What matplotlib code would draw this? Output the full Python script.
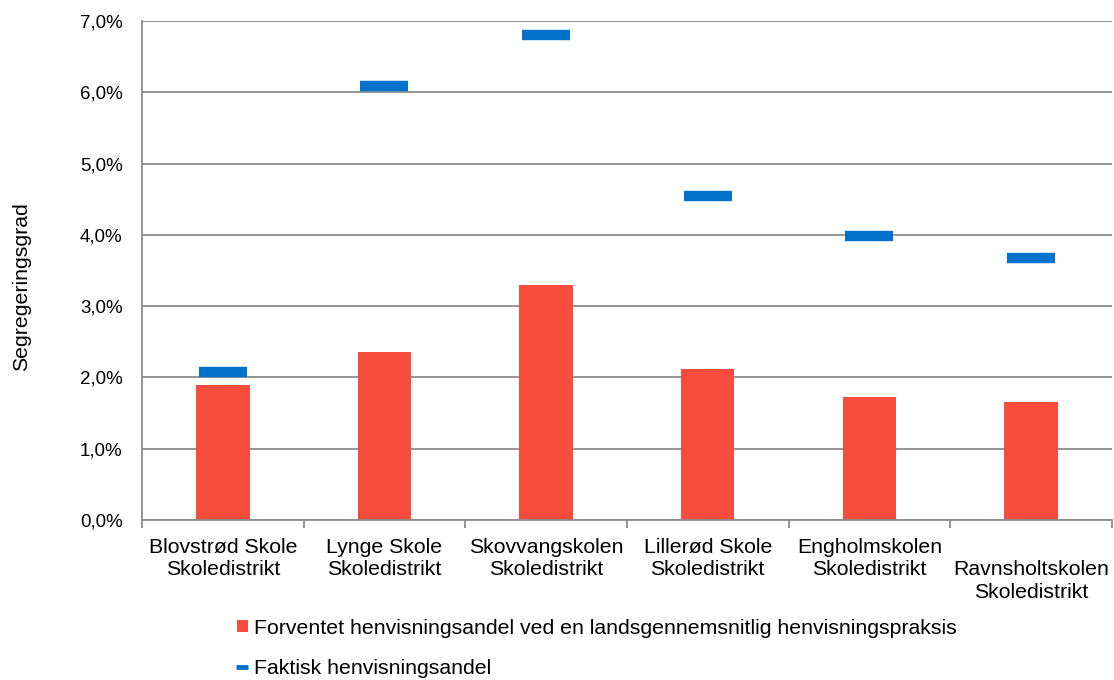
import matplotlib.pyplot as plt
from matplotlib.patches import Patch
from matplotlib.lines import Line2D
from matplotlib.ticker import FuncFormatter, FixedLocator

plt.rcParams['font.family'] = ['Liberation Sans', 'DejaVu Sans']

# Data (percent)
districts = ['Blovstrød Skole\nSkoledistrikt', 'Lynge Skole\nSkoledistrikt',
             'Skovvangskolen\nSkoledistrikt', 'Lillerød Skole\nSkoledistrikt',
             'Engholmskolen\nSkoledistrikt', '\nRavnsholtskolen\nSkoledistrikt']
expected = [1.89, 2.35, 3.29, 2.12, 1.73, 1.65]   # Forventet henvisningsandel
actual = [2.07, 6.09, 6.80, 4.55, 3.99, 3.68]     # Faktisk henvisningsandel

red = '#F84C3C'
blue = '#0072CC'
grey = '#8C8C8C'

fig = plt.figure(figsize=(11.14, 6.8), dpi=100)
ax = fig.add_axes([0.1275, 0.2353, 0.8705, 0.7338])

x = list(range(len(districts)))
ax.bar(x, expected, width=0.33, color=red, zorder=2)
ax.plot(x, actual, ls='none', marker='_', markersize=35, markeredgewidth=7.5,
        color=blue, zorder=3)

ax.set_xlim(-0.5, len(districts) - 0.5)
ax.set_ylim(0, 7)
ax.set_yticks([0, 1, 2, 3, 4, 5, 6, 7])
ax.yaxis.set_major_formatter(FuncFormatter(lambda v, p: f'{v:.1f}%'.replace('.', ',')))
ax.grid(axis='y', color=grey, lw=1.3, zorder=0)
ax.set_axisbelow(True)

ax.set_xticks(x)
ax.set_xticklabels(districts, fontsize=15.3, linespacing=1.22)
ax.xaxis.set_minor_locator(FixedLocator([i - 0.5 for i in range(len(districts) + 1)]))
ax.tick_params(axis='x', which='major', length=0, pad=13)
ax.tick_params(axis='x', which='minor', length=6, width=1.3, color=grey)
ax.tick_params(axis='y', length=0, pad=14, labelsize=13.5)

for s in ['top', 'right']:
    ax.spines[s].set_visible(False)
for s in ['left', 'bottom']:
    ax.spines[s].set_color(grey)
    ax.spines[s].set_linewidth(1.3)

fig.text(22 / 1114, 1 - 287 / 680, 'Segregeringsgrad', rotation=90,
         ha='center', va='center', fontsize=15.3)

handles = [Patch(facecolor=red, edgecolor='none'),
           Line2D([], [], ls='none', marker='_', markersize=9, markeredgewidth=3.5, color=blue)]
labels = ['Forventet henvisningsandel ved en landsgennemsnitlig henvisningspraksis',
          'Faktisk henvisningsandel']
fig.legend(handles, labels, loc='upper left', bbox_to_anchor=(228 / 1114, 1 - 610 / 680),
           frameon=False, fontsize=15.3, handlelength=0.55, handleheight=0.55,
           handletextpad=0.25, labelspacing=1.0, borderaxespad=0)

fig.savefig('out.png', dpi=100)
